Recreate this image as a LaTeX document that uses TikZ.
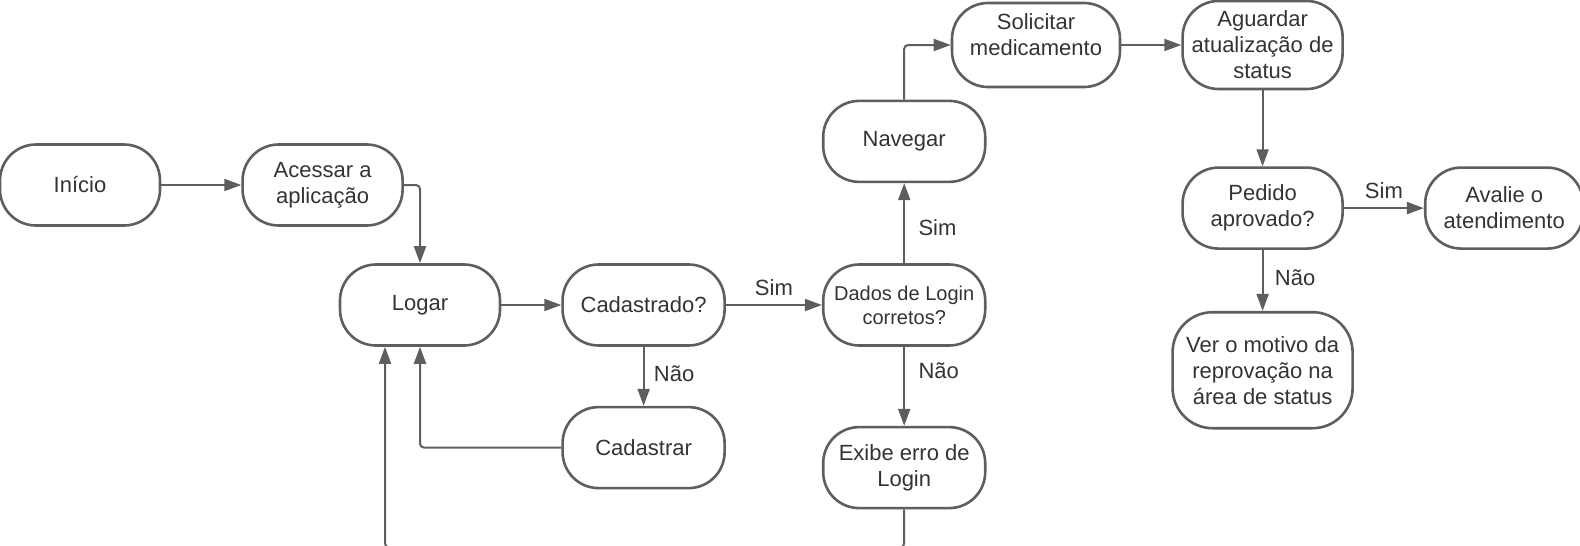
\documentclass[tikz,border=0pt]{standalone}
\usepackage{fontspec}
\setmainfont{Liberation Sans}
\usetikzlibrary{arrows.meta, positioning}
\definecolor{boxline}{HTML}{5E5E5E}
\definecolor{boxtext}{HTML}{333333}
\tikzstyle{line} = [draw, color=boxline, -{Triangle[length=17pt,width=12pt]},
  line width=2pt, rounded corners=4pt]
\tikzstyle{term} = [rectangle, draw=boxline, text=boxtext, line width=2.6pt,
  minimum width=160pt, minimum height=81pt, align=center, rounded corners=36pt,
  font=\fontsize{22}{26}\selectfont, inner sep=2pt]
\tikzstyle{lbl} = [text=boxtext, font=\fontsize{22}{26}\selectfont]

\begin{document}
\begin{tikzpicture}[x=1pt, y=-1pt]
    \useasboundingbox (0,0) rectangle (1580,546);

    \node [term] (inicio) at (80,185) {Início};
    \node [term, right=80pt of inicio] (acessar) {Acessar a\\aplicação};
    \node [term] (logar) at (420,305) {Logar};
    \node [term, right=60pt of logar, minimum width=162pt] (cadastrado) {Cadastrado?};
    \node [term, below=59pt of cadastrado, minimum width=162pt] (cadastrar) {Cadastrar};
    \node [term, right=96pt of cadastrado, minimum width=162pt,
      font=\fontsize{20}{24}\selectfont] (dados) {Dados de Login\\corretos?};
    \node [term, above=80pt of dados, minimum width=162pt] (navegar) {Navegar};
    \node [term, below=79pt of dados, minimum width=162pt] (exibe) {Exibe erro de\\Login};

    \node [term, minimum width=168pt, minimum height=84pt, text depth=20pt]
      (solicitar) at (1036,45) {Solicitar\\medicamento};
    \node [term, right=60pt of solicitar, minimum height=88pt] (aguardar)
      {Aguardar\\atualização de\\status};
    \node [term, below=76pt of aguardar] (pedido) {Pedido\\aprovado?};
    \node [term, right=80pt of pedido, minimum width=158pt] (avalie) {Avalie o\\atendimento};
    \node [term, below=61pt of pedido, minimum width=180pt, minimum height=116pt,
      rounded corners=40pt] (motivo) {Ver o motivo da\\reprovação na\\área de status};

    \path [line] (inicio) -- (acessar);
    \path [line] (acessar.east) -| (logar.north);
    \path [line] (logar) -- (cadastrado);
    \path [line] (cadastrado) -- node [lbl, above=5pt] {Sim} (dados);
    \path [line] (cadastrado) -- node [lbl, right=6pt, pos=0.45] {Não} (cadastrar);
    \path [line] (cadastrar.west) -| (logar.south);
    \path [line] (dados) -- node [lbl, right=10pt, pos=0.45] {Sim} (navegar);
    \path [line] (dados) -- node [lbl, right=10pt, pos=0.3] {Não} (exibe);
    \path [line] (exibe.south) -- ++(0,38) -| ([xshift=-35pt]logar.south);
    \path [line] (navegar.north) |- (solicitar.west);
    \path [line] (solicitar) -- (aguardar);
    \path [line] (aguardar) -- (pedido);
    \path [line] (pedido) -- node [lbl, above=5pt] {Sim} (avalie);
    \path [line] (pedido) -- node [lbl, right=8pt, pos=0.45] {Não} (motivo);

\end{tikzpicture}
\end{document}
